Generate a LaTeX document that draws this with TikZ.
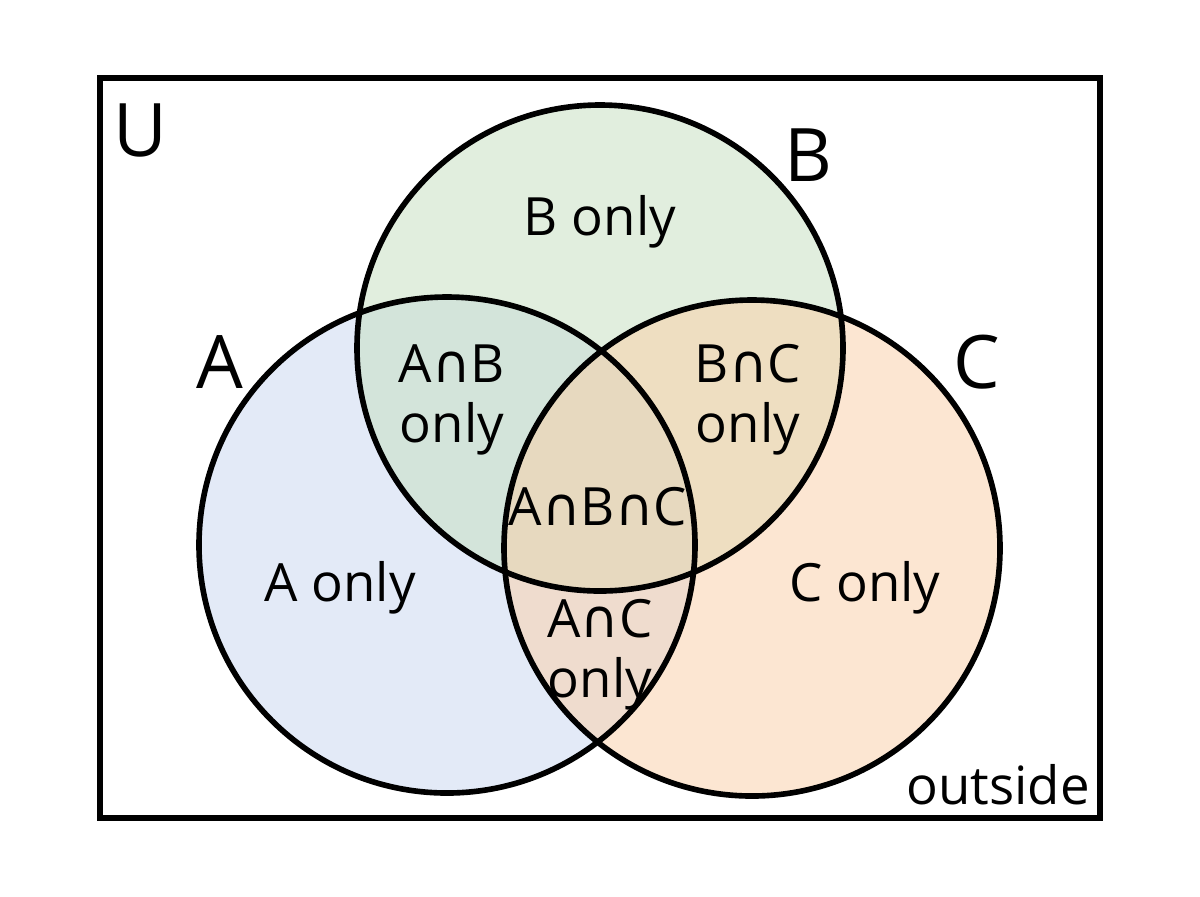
\documentclass[tikz,border=0pt]{standalone}
\usepackage{fontspec}
\setmainfont{Open Sans}
\newfontfamily\djv{DejaVu Sans}
\newcommand{\capsym}{{\djv ∩}}
\definecolor{setA}{HTML}{C8D6F0}
\definecolor{setB}{HTML}{C4DFBF}
\definecolor{setC}{HTML}{FBCFA6}
\tikzset{
	setline/.style={line width=1.6pt, draw=black},
	region/.style={font=\fontsize{15}{17}\selectfont, align=center, inner sep=0pt},
	setname/.style={font=\fontsize{21}{24}\selectfont, inner sep=0pt}
}
\begin{document}
\begin{tikzpicture}[x=0.01cm, y=-0.01cm]
	\useasboundingbox (0,0) rectangle (1200,896);
	\fill[white] (0,0) rectangle (1200,896);
	\node[setline, draw, minimum width=10cm, minimum height=7.4cm, inner sep=0pt] (U) at (600,448) {};
	\fill[setA, fill opacity=0.5] (447,545) circle (248);
	\fill[setB, fill opacity=0.5] (600,348) circle (243);
	\fill[setC, fill opacity=0.5] (752,548) circle (248);
	\draw[setline] (447,545) circle (248);
	\draw[setline] (600,348) circle (243);
	\draw[setline] (752,548) circle (248);
	\node[setname] (uname) at (140,130) {U};
	\node[setname] (aname) at (220,362) {A};
	\node[setname] (bname) at (808,155) {B};
	\node[setname] (cname) at (977,362) {C};
	\node[region] (bonly) at (600,222) {B only};
	\node[region] (ab) at (452,400) {A\capsym B\\only};
	\node[region] (bc) at (748,400) {B\capsym C\\only};
	\node[region] (abc) at (598,507) {A\capsym B\capsym C};
	\node[region] (aonly) at (340,588) {A only};
	\node[region] (conly) at (865,588) {C only};
	\node[region] (ac) at (600,655) {A\capsym C\\only};
	\node[region] (out) at (998,785) {outside};
\end{tikzpicture}
\end{document}
